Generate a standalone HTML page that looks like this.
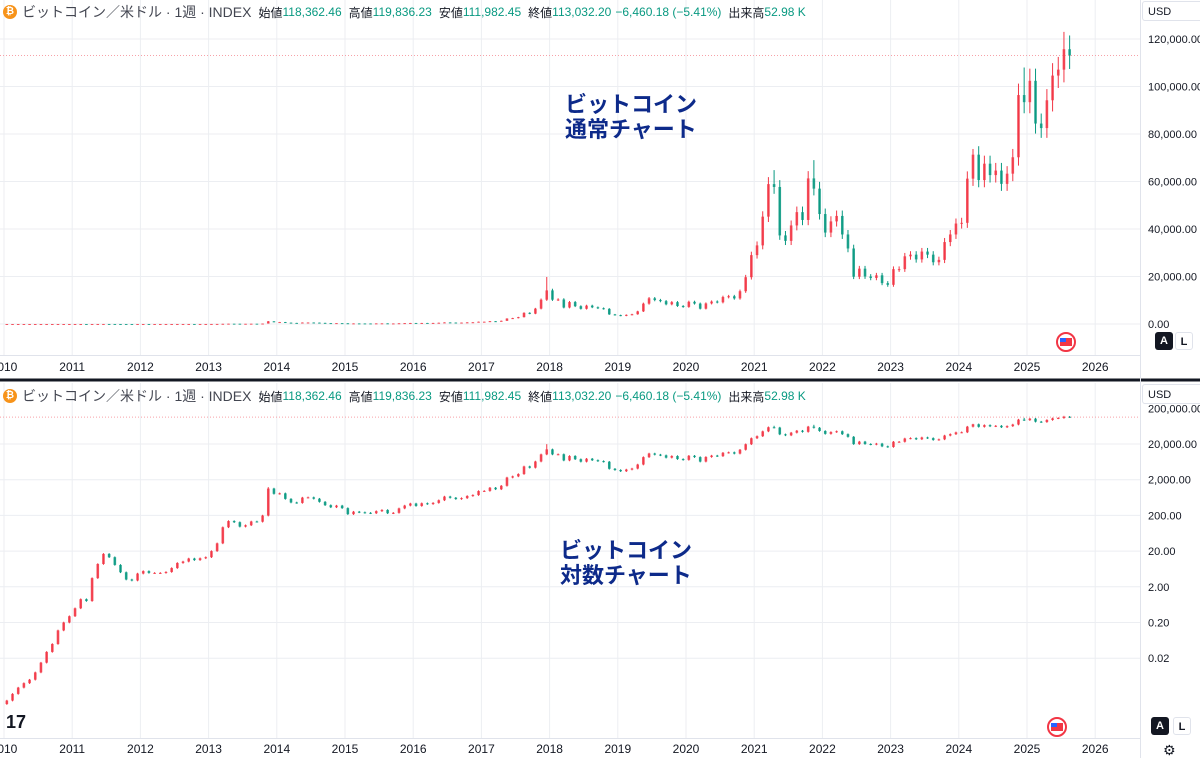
<!DOCTYPE html>
<html><head><meta charset="utf-8">
<style>
html,body{margin:0;padding:0;background:#fff;width:1200px;height:758px;overflow:hidden;font-family:"Liberation Sans","Noto Sans CJK JP",sans-serif;}
svg{position:absolute;left:0;top:0}
.hdr{position:absolute;left:0;font-size:14px;color:#434651;white-space:nowrap;display:flex;align-items:center}
.hdr .coin{width:14px;height:14px;border-radius:50%;background:#f7931a;color:#fff;font-size:10px;font-weight:bold;text-align:center;line-height:14px;margin:0 5px 0 3px}
.hdr .k{font-size:12px;color:#131722;margin-left:7px}
.hdr .v{font-size:12px;color:#089981}
.usd{position:absolute;left:1142px;width:62px;height:20px;border:1px solid #e0e3eb;border-radius:3px;font-size:11px;line-height:20px;padding-left:5px;box-sizing:border-box;color:#131722;background:#fff}
.btn{position:absolute;width:18px;height:18px;border-radius:3px;font-size:11px;text-align:center;line-height:18px;font-weight:bold}
.note{position:absolute;color:#0d2a8a;font-weight:bold;font-size:22px;line-height:25px}
</style></head><body>
<svg id="chart" width="1200" height="758"></svg>
<div class="hdr" style="top:2px"><span class="coin">₿</span><span>ビットコイン／米ドル · 1週 · INDEX</span><span class="k">始値</span><span class="v">118,362.46</span><span class="k">高値</span><span class="v">119,836.23</span><span class="k">安値</span><span class="v">111,982.45</span><span class="k">終値</span><span class="v">113,032.20</span><span class="v" style="margin-left:4px">−6,460.18 (−5.41%)</span><span class="k">出来高</span><span class="v">52.98 K</span></div>
<div class="hdr" style="top:386px"><span class="coin">₿</span><span>ビットコイン／米ドル · 1週 · INDEX</span><span class="k">始値</span><span class="v">118,362.46</span><span class="k">高値</span><span class="v">119,836.23</span><span class="k">安値</span><span class="v">111,982.45</span><span class="k">終値</span><span class="v">113,032.20</span><span class="v" style="margin-left:4px">−6,460.18 (−5.41%)</span><span class="k">出来高</span><span class="v">52.98 K</span></div>
<div class="usd" style="top:1px">USD</div>
<div class="usd" style="top:384px">USD</div>
<div class="note" style="left:565px;top:92px">ビットコイン<br>通常チャート</div>
<div class="note" style="left:560px;top:538px">ビットコイン<br>対数チャート</div>
<div class="btn" style="left:1155px;top:332px;background:#131722;color:#fff">A</div>
<div class="btn" style="left:1175px;top:332px;border:1px solid #e0e3eb;color:#131722;box-sizing:border-box">L</div>
<div class="btn" style="left:1151px;top:717px;background:#131722;color:#fff">A</div>
<div class="btn" style="left:1173px;top:717px;border:1px solid #e0e3eb;color:#131722;box-sizing:border-box">L</div>
<script>
const years=[2010,2011,2012,2013,2014,2015,2016,2017,2018,2019,2020,2021,2022,2023,2024,2025,2026];
const linearTicks=[0,20000,40000,60000,80000,100000,120000];
const logTicks=[0.02,0.2,2,20,200,2000,20000];
const startYear=2010;
const closes=[
0.0013,0.002,0.003,0.004,0.005,0.008,0.015,0.03,0.05,0.12,0.2,0.3,
0.5,0.9,0.8,3.5,8.7,16.7,13.5,8.2,5.1,3.2,3.0,4.7,
5.5,4.9,4.9,4.9,5.2,6.7,9.3,10.2,12.4,11.2,12.6,13.5,
20,33,93,139,129,97,106,135,133,198,1130,805,
830,580,460,447,630,640,587,480,387,338,376,320,
217,254,244,236,230,263,284,230,236,314,377,430,
368,437,416,448,531,674,624,575,609,700,742,963,
970,1190,1080,1350,2300,2480,2880,4700,4340,6470,10230,14150,
10220,10330,6930,9240,7500,6400,7730,7030,6630,6370,4040,3740,
3460,3850,4100,5320,8570,10820,10080,9630,8290,9200,7570,7190,
9350,8600,6440,8660,9460,9140,11350,11680,10780,13800,19700,29000,
33100,45200,58900,57700,37300,35000,41500,47100,43800,61300,57000,46300,
38500,43200,45500,37700,31800,19900,23300,20000,19400,20500,17200,16500,
23100,23100,28500,29200,27200,30500,29200,26000,27000,34500,37700,42300,
42600,61200,71300,60600,67500,62700,64600,59000,63300,70200,96400,93400,
102400,84400,82500,94200,104600,107100,115700,113032];
const highs={"2013-11":1240,"2017-12":19800,"2021-4":64800,"2021-11":69000,"2024-3":73700,"2024-12":108000,"2025-7":123000};
const lastPrice=113032;

const svg=document.getElementById('chart');
const NS='http://www.w3.org/2000/svg';
function el(tag,attrs,parent){const e=document.createElementNS(NS,tag);for(const k in attrs)e.setAttribute(k,attrs[k]);(parent||svg).appendChild(e);return e;}
const xScale=t=>4+(t-startYear)*68.2;
const yTop=v=>324-v/20000*47.5;
const yLog=v=>444-(Math.log10(v)-Math.log10(20000))*35.7;

const grid=el('g',{});


years.forEach(y=>{const x=xScale(y);
 el('line',{x1:x,x2:x,y1:0,y2:355,stroke:'#eceef2'},grid);
 el('line',{x1:x,x2:x,y1:383,y2:738,stroke:'#eceef2'},grid);});
linearTicks.forEach(v=>el('line',{x1:0,x2:1140,y1:yTop(v),y2:yTop(v),stroke:'#eceef2'},grid));
logTicks.forEach(v=>el('line',{x1:0,x2:1140,y1:yLog(v),y2:yLog(v),stroke:'#eceef2'},grid));
el('line',{x1:0,x2:1200,y1:380,y2:380,stroke:'#131722','stroke-width':3});
el('line',{x1:1140.5,x2:1140.5,y1:0,y2:758,stroke:'#e0e3eb'});
el('line',{x1:0,x2:1140,y1:355.5,y2:355.5,stroke:'#e0e3eb'});
el('line',{x1:0,x2:1140,y1:738.5,y2:738.5,stroke:'#e0e3eb'});

years.forEach(y=>{
 const t=el('text',{x:xScale(y),y:371,'font-size':12,'text-anchor':'middle',fill:'#131722','font-family':'Liberation Sans'});t.textContent=y;
 
 const b=el('text',{x:xScale(y),y:753,'font-size':12,'text-anchor':'middle',fill:'#131722','font-family':'Liberation Sans'});b.textContent=y;
 
});
const fmt=v=>v.toLocaleString('en-US',{minimumFractionDigits:2,maximumFractionDigits:2});
linearTicks.forEach(v=>{const t=el('text',{x:1148,y:yTop(v)+4,'font-size':11,fill:'#131722','font-family':'Liberation Sans'});t.textContent=fmt(v);
 });
logTicks.forEach(v=>{const t=el('text',{x:1148,y:yLog(v)+4,'font-size':11,fill:'#131722','font-family':'Liberation Sans'});t.textContent=fmt(v);
 });
{const t=el('text',{x:1148,y:yLog(200000)+4,'font-size':11,fill:'#131722','font-family':'Liberation Sans'});t.textContent=fmt(200000);}

const UP='#f23645',DN='#089981';
const candTop=el('g',{}),candLog=el('g',{});


closes.forEach((c,i)=>{
 const o=i?closes[i-1]:c*0.8;
 const yr=startYear+Math.floor(i/12),mo=i%12+1;
 let hi=Math.max(o,c)*1.05,lo=Math.min(o,c)*0.95;
 if(highs[yr+'-'+mo])hi=highs[yr+'-'+mo];
 const x=xScale(startYear+(i+0.5)/12);
 const col=c>=o?UP:DN;
 [[candTop,yTop],[candLog,yLog]].forEach(([g,f])=>{
  el('line',{x1:x,x2:x,y1:f(hi),y2:f(lo),stroke:col,'stroke-width':1},g);
  const y1=f(Math.max(o,c)),y2=f(Math.min(o,c));
  const r=el('rect',{x:x-1.3,y:y1,width:2.6,height:Math.max(1,y2-y1),fill:col,'fill-opacity':0.85},g);
  
 });
});
el('line',{x1:0,x2:1140,y1:yTop(lastPrice),y2:yTop(lastPrice),stroke:'#f7a1a8','stroke-dasharray':'1 2','stroke-width':1});
el('line',{x1:0,x2:1140,y1:yLog(lastPrice),y2:yLog(lastPrice),stroke:'#f7a1a8','stroke-dasharray':'1 2','stroke-width':1});
[[1066,342],[1057,727]].forEach(([x,y])=>{const g=el('g',{});
 
 el('circle',{cx:x,cy:y,r:9,fill:'#fff',stroke:'#f23645','stroke-width':2},g);
 el('rect',{x:x-6,y:y-4,width:12,height:8,fill:'#f23645'},g);
 el('rect',{x:x-6,y:y-4,width:6,height:4,fill:'#2962ff'},g);});
const lg=el('text',{x:6,y:728,'font-size':18,'font-weight':'bold',fill:'#131722','font-family':'Liberation Sans'});lg.textContent='17';

const gear=el('text',{x:1163,y:755,'font-size':14,fill:'#131722','font-family':'DejaVu Sans'});gear.textContent='⚙';

</script>
</body></html>
